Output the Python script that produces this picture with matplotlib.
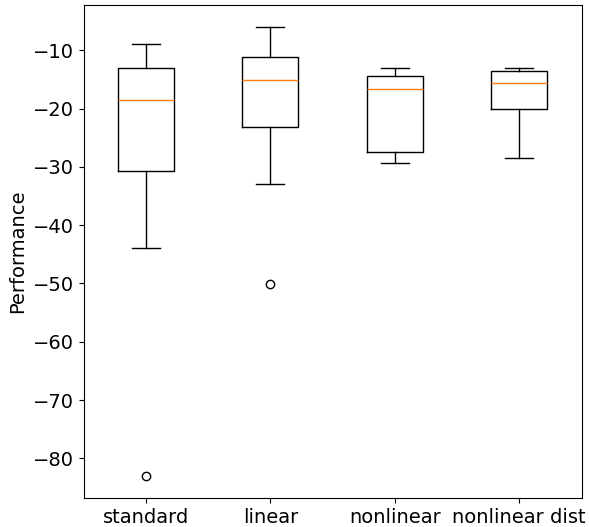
import matplotlib
matplotlib.use("Agg")
import matplotlib.pyplot as plt

categories = ["standard", "linear", "nonlinear", "nonlinear dist"]
medians = [-18.6, -15.1, -16.7, -15.6]
q1 = [-30.8, -23.1, -27.5, -20.0]
q3 = [-13.1, -11.1, -14.45, -13.65]
whisker_low = [-44.0, -33.0, -29.4, -28.45]
whisker_high = [-9.0, -6.05, -13.1, -13.1]
outliers = [[-83.0], [-50.1], [], []]

plt.rcParams["font.size"] = 14

fig = plt.figure(figsize=(5.89, 5.27), dpi=100)
ax = fig.add_axes([0.1418, 0.0545, 0.8455, 0.9365])

stats = []
for i, name in enumerate(categories):
    stats.append({
        "label": name,
        "med": medians[i],
        "q1": q1[i],
        "q3": q3[i],
        "whislo": whisker_low[i],
        "whishi": whisker_high[i],
        "fliers": outliers[i],
    })

ax.bxp(stats, positions=[1, 2, 3, 4], widths=0.45)
ax.set_xlim(0.5, 4.5)
ax.set_ylabel("Performance")

fig.savefig("out.png", dpi=100)
